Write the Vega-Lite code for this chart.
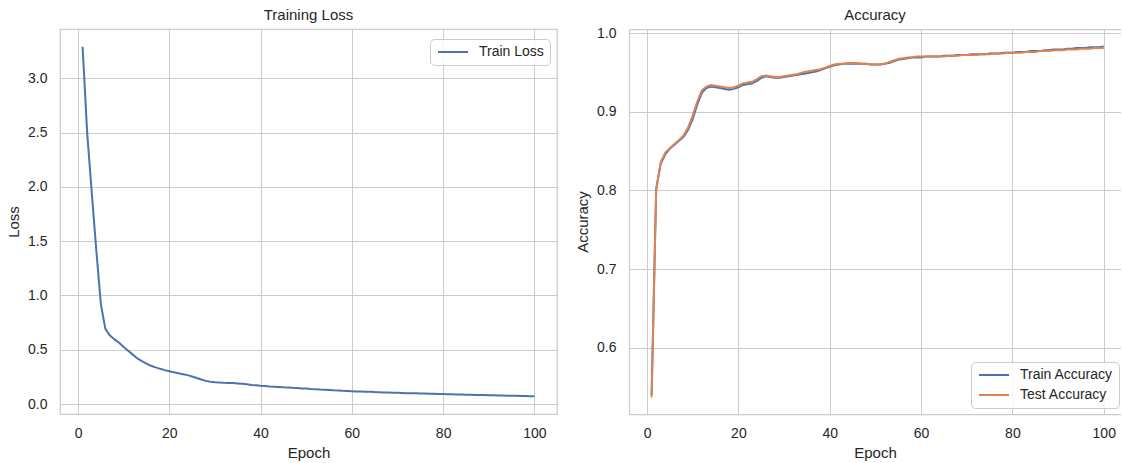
{
  "$schema": "https://vega.github.io/schema/vega-lite/v6.json",
  "padding": {"left": 5, "top": 7, "right": 0, "bottom": 0},
  "autosize": {"type": "pad"},
  "background": "white",
  "spacing": 17,
  "datasets": {
    "loss": [
      {"epoch":1,"loss":3.29},{"epoch":2,"loss":2.50},{"epoch":3,"loss":1.95},{"epoch":4,"loss":1.42},{"epoch":5,"loss":0.92},
      {"epoch":6,"loss":0.69},{"epoch":7,"loss":0.63},{"epoch":8,"loss":0.595},{"epoch":9,"loss":0.565},{"epoch":10,"loss":0.525},
      {"epoch":11,"loss":0.49},{"epoch":12,"loss":0.455},{"epoch":13,"loss":0.42},{"epoch":14,"loss":0.395},{"epoch":15,"loss":0.372},
      {"epoch":16,"loss":0.352},{"epoch":17,"loss":0.337},{"epoch":18,"loss":0.324},{"epoch":19,"loss":0.312},{"epoch":20,"loss":0.302},
      {"epoch":21,"loss":0.292},{"epoch":22,"loss":0.284},{"epoch":23,"loss":0.275},{"epoch":24,"loss":0.266},{"epoch":25,"loss":0.254},
      {"epoch":26,"loss":0.240},{"epoch":27,"loss":0.226},{"epoch":28,"loss":0.213},{"epoch":29,"loss":0.205},{"epoch":30,"loss":0.200},
      {"epoch":31,"loss":0.197},{"epoch":32,"loss":0.195},{"epoch":33,"loss":0.194},{"epoch":34,"loss":0.193},{"epoch":35,"loss":0.190},
      {"epoch":36,"loss":0.186},{"epoch":37,"loss":0.181},{"epoch":38,"loss":0.176},{"epoch":39,"loss":0.172},{"epoch":40,"loss":0.168},
      {"epoch":41,"loss":0.165},{"epoch":42,"loss":0.162},{"epoch":43,"loss":0.160},{"epoch":44,"loss":0.157},{"epoch":45,"loss":0.154},
      {"epoch":46,"loss":0.152},{"epoch":47,"loss":0.149},{"epoch":48,"loss":0.147},{"epoch":49,"loss":0.144},{"epoch":50,"loss":0.142},
      {"epoch":51,"loss":0.139},{"epoch":52,"loss":0.137},{"epoch":53,"loss":0.134},{"epoch":54,"loss":0.132},{"epoch":55,"loss":0.130},
      {"epoch":56,"loss":0.127},{"epoch":57,"loss":0.125},{"epoch":58,"loss":0.122},{"epoch":59,"loss":0.120},{"epoch":60,"loss":0.118},
      {"epoch":61,"loss":0.116},{"epoch":62,"loss":0.115},{"epoch":63,"loss":0.113},{"epoch":64,"loss":0.112},{"epoch":65,"loss":0.110},
      {"epoch":66,"loss":0.109},{"epoch":67,"loss":0.107},{"epoch":68,"loss":0.106},{"epoch":69,"loss":0.104},{"epoch":70,"loss":0.103},
      {"epoch":71,"loss":0.102},{"epoch":72,"loss":0.100},{"epoch":73,"loss":0.099},{"epoch":74,"loss":0.098},{"epoch":75,"loss":0.097},
      {"epoch":76,"loss":0.096},{"epoch":77,"loss":0.095},{"epoch":78,"loss":0.094},{"epoch":79,"loss":0.093},{"epoch":80,"loss":0.092},
      {"epoch":81,"loss":0.091},{"epoch":82,"loss":0.090},{"epoch":83,"loss":0.088},{"epoch":84,"loss":0.087},{"epoch":85,"loss":0.086},
      {"epoch":86,"loss":0.085},{"epoch":87,"loss":0.084},{"epoch":88,"loss":0.083},{"epoch":89,"loss":0.082},{"epoch":90,"loss":0.081},
      {"epoch":91,"loss":0.080},{"epoch":92,"loss":0.079},{"epoch":93,"loss":0.078},{"epoch":94,"loss":0.077},{"epoch":95,"loss":0.076},
      {"epoch":96,"loss":0.075},{"epoch":97,"loss":0.074},{"epoch":98,"loss":0.073},{"epoch":99,"loss":0.072},{"epoch":100,"loss":0.071}
    ],
    "acc": [
      {"epoch":1,"Train Accuracy":0.540,"Test Accuracy":0.537},{"epoch":2,"Train Accuracy":0.802,"Test Accuracy":0.800},
      {"epoch":3,"Train Accuracy":0.834,"Test Accuracy":0.836},{"epoch":4,"Train Accuracy":0.846,"Test Accuracy":0.848},
      {"epoch":5,"Train Accuracy":0.853,"Test Accuracy":0.854},{"epoch":6,"Train Accuracy":0.858,"Test Accuracy":0.859},
      {"epoch":7,"Train Accuracy":0.863,"Test Accuracy":0.864},{"epoch":8,"Train Accuracy":0.868,"Test Accuracy":0.870},
      {"epoch":9,"Train Accuracy":0.877,"Test Accuracy":0.880},{"epoch":10,"Train Accuracy":0.891,"Test Accuracy":0.895},
      {"epoch":11,"Train Accuracy":0.909,"Test Accuracy":0.913},{"epoch":12,"Train Accuracy":0.924,"Test Accuracy":0.927},
      {"epoch":13,"Train Accuracy":0.930,"Test Accuracy":0.932},{"epoch":14,"Train Accuracy":0.932,"Test Accuracy":0.934},
      {"epoch":15,"Train Accuracy":0.931,"Test Accuracy":0.933},{"epoch":16,"Train Accuracy":0.930,"Test Accuracy":0.932},
      {"epoch":17,"Train Accuracy":0.929,"Test Accuracy":0.931},{"epoch":18,"Train Accuracy":0.928,"Test Accuracy":0.930},
      {"epoch":19,"Train Accuracy":0.929,"Test Accuracy":0.931},{"epoch":20,"Train Accuracy":0.931,"Test Accuracy":0.933},
      {"epoch":21,"Train Accuracy":0.934,"Test Accuracy":0.936},{"epoch":22,"Train Accuracy":0.935,"Test Accuracy":0.937},
      {"epoch":23,"Train Accuracy":0.936,"Test Accuracy":0.938},{"epoch":24,"Train Accuracy":0.939,"Test Accuracy":0.941},
      {"epoch":25,"Train Accuracy":0.943,"Test Accuracy":0.945},{"epoch":26,"Train Accuracy":0.945,"Test Accuracy":0.946},
      {"epoch":27,"Train Accuracy":0.944,"Test Accuracy":0.945},{"epoch":28,"Train Accuracy":0.943,"Test Accuracy":0.944},
      {"epoch":29,"Train Accuracy":0.943,"Test Accuracy":0.944},{"epoch":30,"Train Accuracy":0.944,"Test Accuracy":0.945},
      {"epoch":31,"Train Accuracy":0.945,"Test Accuracy":0.946},{"epoch":32,"Train Accuracy":0.946,"Test Accuracy":0.947},
      {"epoch":33,"Train Accuracy":0.947,"Test Accuracy":0.948},{"epoch":34,"Train Accuracy":0.948,"Test Accuracy":0.950},
      {"epoch":35,"Train Accuracy":0.949,"Test Accuracy":0.951},{"epoch":36,"Train Accuracy":0.950,"Test Accuracy":0.952},
      {"epoch":37,"Train Accuracy":0.951,"Test Accuracy":0.953},{"epoch":38,"Train Accuracy":0.953,"Test Accuracy":0.954},
      {"epoch":39,"Train Accuracy":0.955,"Test Accuracy":0.956},{"epoch":40,"Train Accuracy":0.957,"Test Accuracy":0.958},
      {"epoch":41,"Train Accuracy":0.959,"Test Accuracy":0.960},{"epoch":42,"Train Accuracy":0.960,"Test Accuracy":0.961},
      {"epoch":43,"Train Accuracy":0.961,"Test Accuracy":0.961},{"epoch":44,"Train Accuracy":0.961,"Test Accuracy":0.962},
      {"epoch":45,"Train Accuracy":0.961,"Test Accuracy":0.962},{"epoch":46,"Train Accuracy":0.961,"Test Accuracy":0.962},
      {"epoch":47,"Train Accuracy":0.961,"Test Accuracy":0.961},{"epoch":48,"Train Accuracy":0.961,"Test Accuracy":0.961},
      {"epoch":49,"Train Accuracy":0.960,"Test Accuracy":0.960},{"epoch":50,"Train Accuracy":0.960,"Test Accuracy":0.960},
      {"epoch":51,"Train Accuracy":0.960,"Test Accuracy":0.960},{"epoch":52,"Train Accuracy":0.961,"Test Accuracy":0.961},
      {"epoch":53,"Train Accuracy":0.962,"Test Accuracy":0.963},{"epoch":54,"Train Accuracy":0.964,"Test Accuracy":0.965},
      {"epoch":55,"Train Accuracy":0.966,"Test Accuracy":0.967},{"epoch":56,"Train Accuracy":0.967,"Test Accuracy":0.968},
      {"epoch":57,"Train Accuracy":0.968,"Test Accuracy":0.969},{"epoch":58,"Train Accuracy":0.969,"Test Accuracy":0.969},
      {"epoch":59,"Train Accuracy":0.969,"Test Accuracy":0.970},{"epoch":60,"Train Accuracy":0.969,"Test Accuracy":0.970},
      {"epoch":61,"Train Accuracy":0.970,"Test Accuracy":0.970},{"epoch":62,"Train Accuracy":0.970,"Test Accuracy":0.970},
      {"epoch":63,"Train Accuracy":0.970,"Test Accuracy":0.970},{"epoch":64,"Train Accuracy":0.970,"Test Accuracy":0.970},
      {"epoch":65,"Train Accuracy":0.971,"Test Accuracy":0.970},{"epoch":66,"Train Accuracy":0.971,"Test Accuracy":0.971},
      {"epoch":67,"Train Accuracy":0.971,"Test Accuracy":0.971},{"epoch":68,"Train Accuracy":0.972,"Test Accuracy":0.971},
      {"epoch":69,"Train Accuracy":0.972,"Test Accuracy":0.972},{"epoch":70,"Train Accuracy":0.972,"Test Accuracy":0.972},
      {"epoch":71,"Train Accuracy":0.973,"Test Accuracy":0.972},{"epoch":72,"Train Accuracy":0.973,"Test Accuracy":0.972},
      {"epoch":73,"Train Accuracy":0.973,"Test Accuracy":0.973},{"epoch":74,"Train Accuracy":0.973,"Test Accuracy":0.973},
      {"epoch":75,"Train Accuracy":0.974,"Test Accuracy":0.973},{"epoch":76,"Train Accuracy":0.974,"Test Accuracy":0.974},
      {"epoch":77,"Train Accuracy":0.974,"Test Accuracy":0.974},{"epoch":78,"Train Accuracy":0.975,"Test Accuracy":0.974},
      {"epoch":79,"Train Accuracy":0.975,"Test Accuracy":0.975},{"epoch":80,"Train Accuracy":0.975,"Test Accuracy":0.975},
      {"epoch":81,"Train Accuracy":0.976,"Test Accuracy":0.975},{"epoch":82,"Train Accuracy":0.976,"Test Accuracy":0.975},
      {"epoch":83,"Train Accuracy":0.976,"Test Accuracy":0.976},{"epoch":84,"Train Accuracy":0.977,"Test Accuracy":0.976},
      {"epoch":85,"Train Accuracy":0.977,"Test Accuracy":0.976},{"epoch":86,"Train Accuracy":0.977,"Test Accuracy":0.977},
      {"epoch":87,"Train Accuracy":0.978,"Test Accuracy":0.977},{"epoch":88,"Train Accuracy":0.978,"Test Accuracy":0.977},
      {"epoch":89,"Train Accuracy":0.979,"Test Accuracy":0.978},{"epoch":90,"Train Accuracy":0.979,"Test Accuracy":0.978},
      {"epoch":91,"Train Accuracy":0.979,"Test Accuracy":0.978},{"epoch":92,"Train Accuracy":0.980,"Test Accuracy":0.979},
      {"epoch":93,"Train Accuracy":0.980,"Test Accuracy":0.979},{"epoch":94,"Train Accuracy":0.981,"Test Accuracy":0.979},
      {"epoch":95,"Train Accuracy":0.981,"Test Accuracy":0.980},{"epoch":96,"Train Accuracy":0.981,"Test Accuracy":0.980},
      {"epoch":97,"Train Accuracy":0.982,"Test Accuracy":0.980},{"epoch":98,"Train Accuracy":0.982,"Test Accuracy":0.981},
      {"epoch":99,"Train Accuracy":0.982,"Test Accuracy":0.981},{"epoch":100,"Train Accuracy":0.983,"Test Accuracy":0.981}
    ]
  },
  "hconcat": [
    {
      "title": "Training Loss",
      "width": 497,
      "height": 385,
      "data": {"name": "loss"},
      "mark": {"type": "line", "strokeWidth": 2},
      "encoding": {
        "x": {"field": "epoch", "type": "quantitative",
              "scale": {"domain": [-3.95, 104.95], "nice": false, "zero": false},
              "axis": {"values": [0, 20, 40, 60, 80, 100], "title": "Epoch"}},
        "y": {"field": "loss", "type": "quantitative",
              "scale": {"domain": [-0.092, 3.454], "nice": false, "zero": false},
              "axis": {"values": [0, 0.5, 1, 1.5, 2, 2.5, 3], "format": ".1f", "title": "Loss"}},
        "color": {"datum": "Train Loss", "type": "nominal",
                  "scale": {"range": ["#4C72B0"]},
                  "legend": {"title": null, "orient": "none", "legendX": 370, "legendY": 10}}
      }
    },
    {
      "title": {"text": "Accuracy", "offset": 3},
      "width": 492,
      "height": 385,
      "view": {"stroke": null},
      "data": {"name": "acc"},
      "transform": [{"fold": ["Train Accuracy", "Test Accuracy"], "as": ["series", "value"]}],
      "layer": [
        {
          "mark": {"type": "line", "strokeWidth": 2},
          "encoding": {
            "x": {"field": "epoch", "type": "quantitative",
                  "scale": {"domain": [-3.95, 103.78], "nice": false, "zero": false},
                  "axis": {"values": [0, 20, 40, 60, 80, 100], "title": "Epoch", "domain": true, "domainColor": "#cccccc", "domainWidth": 1.25}},
            "y": {"field": "value", "type": "quantitative",
                  "scale": {"domain": [0.5159, 1.0051], "nice": false, "zero": false},
                  "axis": {"values": [0.6, 0.7, 0.8, 0.9, 1.0], "format": ".1f", "title": "Accuracy", "domain": true, "domainColor": "#cccccc", "domainWidth": 1.25}},
            "color": {"field": "series", "type": "nominal",
                      "scale": {"domain": ["Train Accuracy", "Test Accuracy"], "range": ["#4C72B0", "#DD8452"]},
                      "legend": {"title": null, "orient": "none", "legendX": 342, "legendY": 333}}
          }
        },
        {
          "mark": {"type": "line", "opacity": 0},
          "encoding": {
            "x": {"field": "epoch", "type": "quantitative",
                  "axis": {"orient": "top", "labels": false, "ticks": false, "grid": false, "title": null, "domain": true, "domainColor": "#cccccc", "domainWidth": 1.25}},
            "y": {"field": "value", "type": "quantitative"},
            "detail": {"field": "series"}
          }
        }
      ],
      "resolve": {"axis": {"x": "independent"}}
    }
  ],
  "resolve": {"scale": {"color": "independent", "x": "independent", "y": "independent"}, "legend": {"color": "independent"}},
  "config": {
    "font": "Liberation Sans",
    "view": {"stroke": "#cccccc", "strokeWidth": 1.25},
    "title": {"fontSize": 15, "fontWeight": "normal", "color": "#262626", "offset": 6},
    "axis": {"grid": true, "gridColor": "#cccccc", "gridWidth": 1, "domain": false, "ticks": false, "tickSize": 0,
             "labelFontSize": 14, "labelColor": "#262626", "titleFontSize": 15, "titleFontWeight": "normal", "titleColor": "#262626"},
    "axisX": {"labelPadding": 12, "titlePadding": 5},
    "axisY": {"labelPadding": 13, "titlePadding": 6},
    "legend": {"labelFontSize": 14, "labelColor": "#262626", "padding": 6, "rowPadding": 6,
               "fillColor": "rgba(255,255,255,0.8)", "strokeColor": "#cccccc", "cornerRadius": 4,
               "symbolType": "M-3,0H3", "symbolSize": 100, "symbolStrokeWidth": 2, "symbolOffset": 10, "labelOffset": 19}
  }
}
